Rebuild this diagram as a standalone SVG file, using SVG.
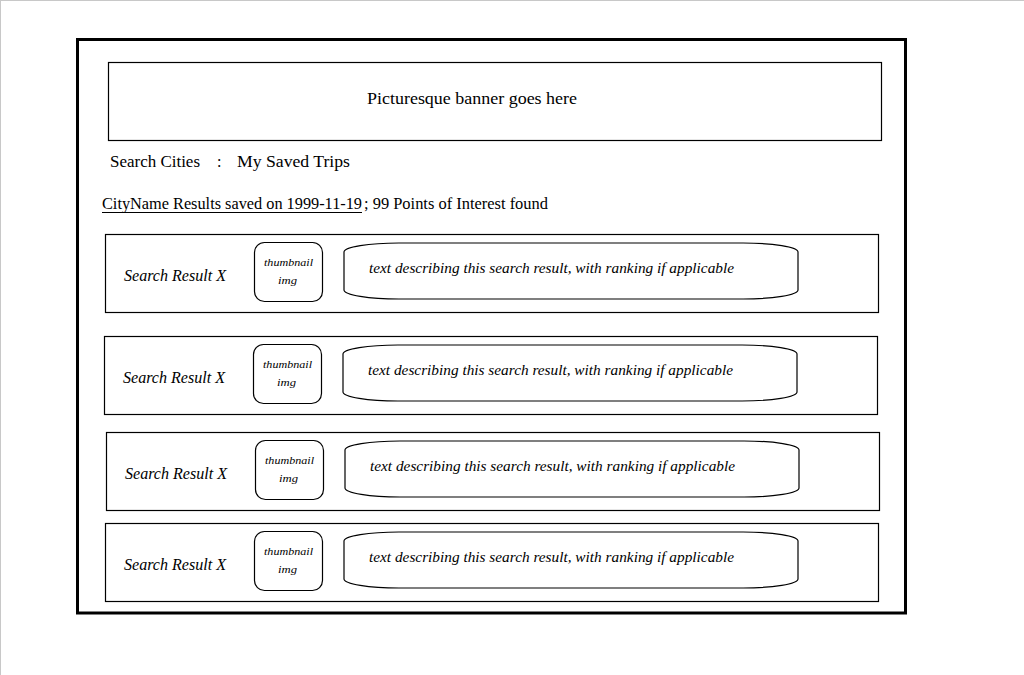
<svg xmlns="http://www.w3.org/2000/svg" xmlns:xlink="http://www.w3.org/1999/xlink" width="1024" height="675" viewBox="0 0 1024 675">
<style>
text{font-family:"Liberation Serif","Times New Roman",serif;fill:#000}
.t16{font-size:16px}
.it{font-style:italic}
.r{font-size:16px;font-style:italic}
.th{font-size:11px;font-style:italic}
.d{font-size:15px;font-style:italic}
.box{fill:#fff;stroke:#000;stroke-width:1.2}
.oval{fill:#fff;stroke:#000;stroke-width:1.2}
</style>
<defs>
<path id="oval" d="M0,9 C0,4 25,0 55,0 L399,0 C429,0 454,4 454,9 L454,47 C454,52 429,56 399,56 L55,56 C25,56 0,52 0,47 Z"/>
</defs>
<rect x="0" y="0" width="1024" height="675" fill="#fff"/>
<line x1="0" y1="0.5" x2="1024" y2="0.5" stroke="#c8c8c8"/>
<line x1="0.5" y1="0" x2="0.5" y2="675" stroke="#c8c8c8"/>
<g id="frame">
<rect x="77.5" y="39.5" width="828" height="573.5" fill="none" stroke="#000" stroke-width="3"/>
</g>
<g id="banner">
<rect x="108.5" y="62.5" width="773" height="78" class="box"/>
<text x="367" y="104" class="t16" textLength="210" lengthAdjust="spacingAndGlyphs">Picturesque banner goes here</text>
</g>
<g id="nav">
<text x="110" y="167" class="t16" textLength="90" lengthAdjust="spacingAndGlyphs">Search Cities</text>
<text x="217" y="167" class="t16">:</text>
<text x="237" y="167" class="t16" textLength="113" lengthAdjust="spacingAndGlyphs">My Saved Trips</text>
</g>
<g id="heading">
<text x="102" y="209" class="t16" textLength="260" lengthAdjust="spacingAndGlyphs">CityName Results saved on 1999-11-19</text>
<line x1="102" y1="212.5" x2="362" y2="212.5" stroke="#000" stroke-width="1"/>
<text x="364" y="209" class="t16" textLength="184" lengthAdjust="spacingAndGlyphs">; 99 Points of Interest found</text>
</g>
<g id="result1">
<rect x="105.5" y="234.5" width="773" height="78" class="box"/>
<text x="124" y="281" class="r" textLength="102" lengthAdjust="spacingAndGlyphs">Search Result X</text>
<rect x="254.5" y="242.5" width="68" height="59" rx="10" class="box"/>
<text x="264" y="266" class="th" textLength="49" lengthAdjust="spacingAndGlyphs">thumbnail</text>
<text x="278" y="284" class="th" textLength="19" lengthAdjust="spacingAndGlyphs">img</text>
<use xlink:href="#oval" x="344" y="243" class="oval"/>
<text x="369" y="273" class="d" textLength="365" lengthAdjust="spacingAndGlyphs">text describing this search result, with ranking if applicable</text>
</g>
<g id="result2">
<rect x="104.5" y="336.5" width="773" height="78" class="box"/>
<text x="123" y="383" class="r" textLength="102" lengthAdjust="spacingAndGlyphs">Search Result X</text>
<rect x="253.5" y="344.5" width="68" height="59" rx="10" class="box"/>
<text x="263" y="368" class="th" textLength="49" lengthAdjust="spacingAndGlyphs">thumbnail</text>
<text x="277" y="386" class="th" textLength="19" lengthAdjust="spacingAndGlyphs">img</text>
<use xlink:href="#oval" x="343" y="345" class="oval"/>
<text x="368" y="375" class="d" textLength="365" lengthAdjust="spacingAndGlyphs">text describing this search result, with ranking if applicable</text>
</g>
<g id="result3">
<rect x="106.5" y="432.5" width="773" height="78" class="box"/>
<text x="125" y="479" class="r" textLength="102" lengthAdjust="spacingAndGlyphs">Search Result X</text>
<rect x="255.5" y="440.5" width="68" height="59" rx="10" class="box"/>
<text x="265" y="464" class="th" textLength="49" lengthAdjust="spacingAndGlyphs">thumbnail</text>
<text x="279" y="482" class="th" textLength="19" lengthAdjust="spacingAndGlyphs">img</text>
<use xlink:href="#oval" x="345" y="441" class="oval"/>
<text x="370" y="471" class="d" textLength="365" lengthAdjust="spacingAndGlyphs">text describing this search result, with ranking if applicable</text>
</g>
<g id="result4">
<rect x="105.5" y="523.5" width="773" height="78" class="box"/>
<text x="124" y="570" class="r" textLength="102" lengthAdjust="spacingAndGlyphs">Search Result X</text>
<rect x="254.5" y="531.5" width="68" height="59" rx="10" class="box"/>
<text x="264" y="555" class="th" textLength="49" lengthAdjust="spacingAndGlyphs">thumbnail</text>
<text x="278" y="573" class="th" textLength="19" lengthAdjust="spacingAndGlyphs">img</text>
<use xlink:href="#oval" x="344" y="532" class="oval"/>
<text x="369" y="562" class="d" textLength="365" lengthAdjust="spacingAndGlyphs">text describing this search result, with ranking if applicable</text>
</g>
<g id="connectors"/>
</svg>
